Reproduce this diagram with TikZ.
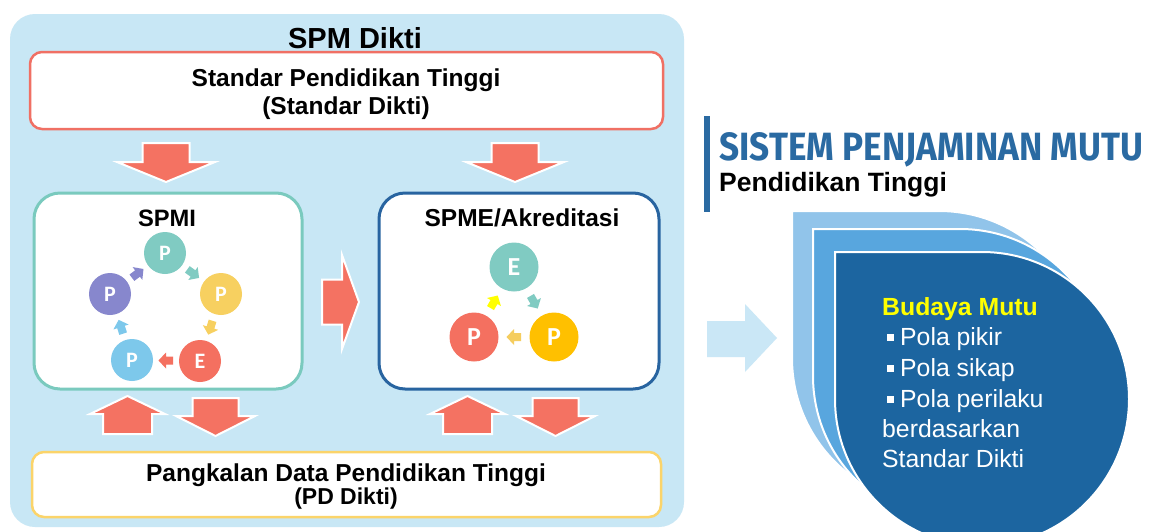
\documentclass[tikz,border=0pt]{standalone}
\usepackage{graphicx}
\usepackage{fontspec}
\setmainfont{Liberation Sans}
\newfontfamily\cfont{Carlito}
\newfontfamily\tfont{Fira Sans}
\usetikzlibrary{calc}
\definecolor{bgblue}{RGB}{200,231,245}
\definecolor{arrowred}{RGB}{244,114,98}
\definecolor{redborder}{RGB}{240,112,100}
\definecolor{yellowborder}{RGB}{251,212,106}
\definecolor{tealborder}{RGB}{122,202,190}
\definecolor{spmeborder}{RGB}{40,100,160}
\definecolor{cteal}{RGB}{128,203,194}
\definecolor{cyellow}{RGB}{247,208,96}
\definecolor{cred}{RGB}{244,112,96}
\definecolor{clblue}{RGB}{125,200,235}
\definecolor{cpurple}{RGB}{135,135,205}
\definecolor{corange}{RGB}{255,192,0}
\definecolor{lorange}{RGB}{245,205,95}
\definecolor{byellow}{RGB}{255,255,0}
\definecolor{outerc}{RGB}{145,196,234}
\definecolor{middlec}{RGB}{88,166,222}
\definecolor{innerc}{RGB}{28,101,160}
\definecolor{titleblue}{RGB}{42,106,162}
\definecolor{lightarrow}{RGB}{202,231,246}
\newcommand\fsz[1]{\fontsize{#1pt}{#1pt}\selectfont}
\begin{document}
\begin{tikzpicture}[x=1pt,y=-1pt,
  every node/.style={inner sep=0pt},
  boxstyle/.style={draw, fill=white, line width=2.5pt, rounded corners=#1},
  cyc/.style={circle, minimum size=42pt, text=white, font=\cfont\bfseries\fsz{22}},
  cycb/.style={circle, minimum size=49pt, text=white, font=\cfont\bfseries\fsz{26}},
  bigarrow/.style={fill=arrowred, draw=white, line width=2pt},
  pics/barrow/.style n args={4}{code={
    \path[pic actions] (0,-#2) -- ({#1-#4},-#2) -- ({#1-#4},-#3) -- (#1,0)
      -- ({#1-#4},#3) -- ({#1-#4},#2) -- (0,#2) -- cycle;}},
  pics/sarrow/.style={code={
    \path[pic actions] (-7,-4) -- (0,-4) -- (0,-8) -- (7.5,0) -- (0,8)
      -- (0,4) -- (-7,4) -- cycle;}}
]
\useasboundingbox (0,0) rectangle (1152,531);
\fill[white] (0,0) rectangle (1152,531);

% left panel
\node[fill=bgblue, rounded corners=25pt, minimum width=674pt, minimum height=513pt] (bg) at (347,270.5) {};
\node[font=\bfseries\fsz{29}] (spmdikti) at (355,38) {SPM Dikti};
\node[boxstyle=12pt, draw=redborder, minimum width=633pt, minimum height=77pt] (std) at (346.5,90.5) {};
\node[font=\bfseries\fsz{24.5}] (stdt1) at (346,80) {Standar Pendidikan Tinggi};
\node[font=\bfseries\fsz{24.5}] (stdt2) at (346,108) {(Standar Dikti)};

\node[boxstyle=12pt, draw=yellowborder, minimum width=629pt, minimum height=65pt] (pd) at (346.5,484.5) {};
\node[font=\bfseries\fsz{24.5}] (pdt1) at (346,475) {Pangkalan Data Pendidikan Tinggi};
\node[font=\bfseries\fsz{23}] (pdt2) at (346,499) {(PD Dikti)};

\node[boxstyle=26pt, draw=tealborder, line width=3pt, minimum width=268pt, minimum height=196pt] (spmi) at (168,291) {};
\node[boxstyle=26pt, draw=spmeborder, line width=3pt, minimum width=280pt, minimum height=196pt] (spme) at (519,291) {};
\node[font=\bfseries\fsz{23.7}] (spmit) at (167,218) {SPMI};
\node[font=\bfseries\fsz{24.5}] (spmet) at (522,218) {SPME/Akreditasi};

% big block arrows
\pic[bigarrow, rotate=-90] at (166,143) {barrow={39}{23.5}{49}{20}};
\pic[bigarrow, rotate=-90] at (515,143) {barrow={39}{23.5}{49}{20}};
\pic[bigarrow] at (322,302) {barrow={37}{22.5}{47}{17}};
\pic[bigarrow, rotate=90] at (127.5,434) {barrow={38}{24.5}{37.5}{18}};
\pic[bigarrow, rotate=-90] at (215.5,398) {barrow={38}{23}{39.5}{20}};
\pic[bigarrow, rotate=90] at (467.5,434) {barrow={38}{24.5}{37.5}{18}};
\pic[bigarrow, rotate=-90] at (555.5,398) {barrow={38}{23}{39.5}{20}};

% SPMI cycle
\node[cyc, fill=cteal] (p1) at (165,253) {P};
\node[cyc, fill=cyellow] (p2) at (221,294) {P};
\node[cyc, fill=cred] (e1) at (200,361) {E};
\node[cyc, fill=clblue] (p3) at (132,360) {P};
\node[cyc, fill=cpurple] (p4) at (110,294) {P};
\pic[fill=cteal, rotate=-36] at ($(p1)!0.5!(p2)$) {sarrow};
\pic[fill=cyellow, rotate=-107] at ($(p2)!0.5!(e1)$) {sarrow};
\pic[fill=cred, rotate=180] at ($(e1)!0.5!(p3)$) {sarrow};
\pic[fill=clblue, rotate=108] at ($(p3)!0.5!(p4)$) {sarrow};
\pic[fill=cpurple, rotate=37] at ($(p4)!0.5!(p1)$) {sarrow};

% SPME cycle
\node[cycb, fill=cteal] (e2) at (514,267) {E};
\node[cycb, fill=corange] (p5) at (554,337) {P};
\node[cycb, fill=cred] (p6) at (474,337) {P};
\pic[fill=cteal, rotate=-60] at ($(e2)!0.5!(p5)$) {sarrow};
\pic[fill=lorange, rotate=180] at ($(p5)!0.5!(p6)$) {sarrow};
\pic[fill=byellow, rotate=60] at ($(p6)!0.5!(e2)$) {sarrow};

% right side
\fill[titleblue] (704,116) rectangle (710,212);
\node[anchor=base west, text=titleblue] (title) at (719,160) {\resizebox{424pt}{28pt}{\tfont\bfseries SISTEM PENJAMINAN MUTU}};
\node[anchor=base west, font=\bfseries\fsz{26.5}] (subtitle) at (719,191) {Pendidikan Tinggi};

\fill[lightarrow] (707,321) -- (745,321) -- (745,304) -- (777,338) -- (745,372) -- (745,357) -- (707,357) -- cycle;

\filldraw[fill=outerc, draw=white, line width=2pt] (792,211) -- (939,211) arc[start angle=90, end angle=-180, radius=147pt] -- cycle;
\filldraw[fill=middlec, draw=white, line width=2pt] (813,229) -- (960,229) arc[start angle=90, end angle=-180, radius=147pt] -- cycle;
\filldraw[fill=innerc, draw=white, line width=2pt] (835,252) -- (982,252) arc[start angle=90, end angle=-180, radius=147pt] -- cycle;

\node[anchor=base west, font=\bfseries\fsz{24.8}, text=byellow] (budaya) at (882,315) {Budaya Mutu};
\node[anchor=base west, font=\fsz{24.8}, text=white] (b1) at (887,345) {\rule[4pt]{7pt}{7pt}\hspace{6pt}Pola pikir};
\node[anchor=base west, font=\fsz{24.8}, text=white] (b2) at (887,376) {\rule[4pt]{7pt}{7pt}\hspace{6pt}Pola sikap};
\node[anchor=base west, font=\fsz{24.8}, text=white] (b3) at (887,407) {\rule[4pt]{7pt}{7pt}\hspace{6pt}Pola perilaku};
\node[anchor=base west, font=\fsz{24.8}, text=white] (b4) at (882,437) {berdasarkan};
\node[anchor=base west, font=\fsz{24.8}, text=white] (b5) at (882,467) {Standar Dikti};
\end{tikzpicture}
\end{document}
